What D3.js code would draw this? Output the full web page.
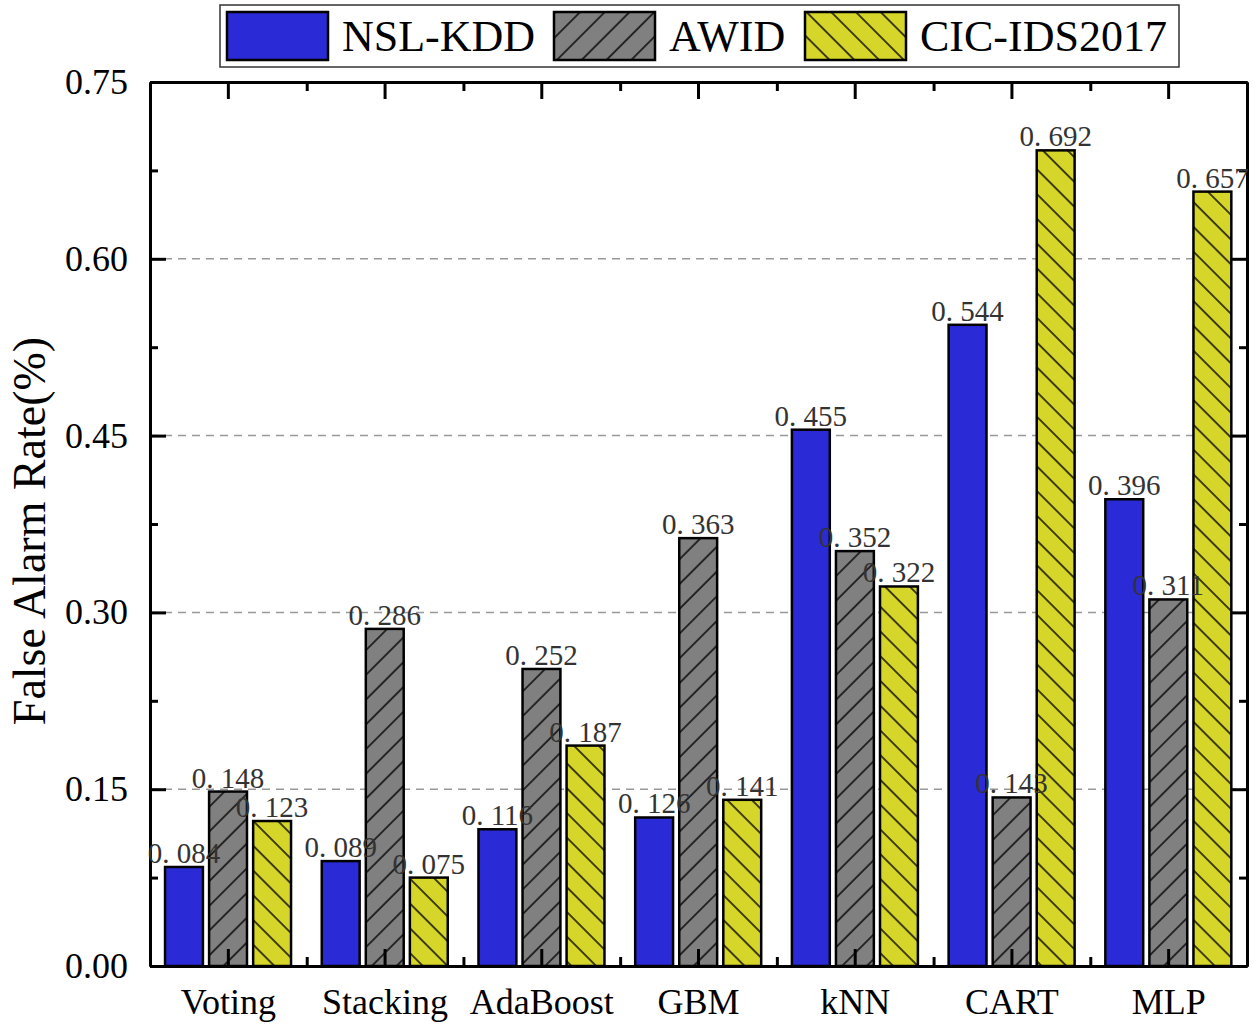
<!DOCTYPE html>
<html>
<head>
<meta charset="utf-8">
<script src="https://cdn.jsdelivr.net/npm/d3@7"></script>
<style>
  body { margin: 0; background: #fff; }
</style>
</head>
<body>
<div id="chart"></div>
<script>
// data

var models = ["Voting", "Stacking", "AdaBoost", "GBM", "kNN", "CART", "MLP"];
var series = ["NSL-KDD", "AWID", "CIC-IDS2017"];
var nslKdd = [0.084, 0.089, 0.116, 0.126, 0.455, 0.544, 0.396];
var awid = [0.148, 0.286, 0.252, 0.363, 0.352, 0.143, 0.311];
var cicIds = [0.123, 0.075, 0.187, 0.141, 0.322, 0.692, 0.657];
var yTicks = [0, 0.15, 0.30, 0.45, 0.60, 0.75];
var yMinorTicks = [0.075, 0.225, 0.375, 0.525, 0.675];

var values = [nslKdd, awid, cicIds];
var fills = ["#2a2ad6", "#808080", "#d6d62a"];
var hatch = [null, "hatch-fwd", "hatch-back"];

var w = 1253,
    h = 1028,
    svg = d3.select("#chart")
            .append("svg")
            .attr("width", w)
            .attr("height", h);

// plot frame (window.top is reserved, so use other names)
var pLeft = 150, pRight = 1247, pTop = 82, pBottom = 966;

// hatch patterns
var defs = svg.append("defs");
function makePattern(id, angle, color) {
    var p = defs.append("pattern")
        .attr("id", id)
        .attr("patternUnits", "userSpaceOnUse")
        .attr("width", 17.5)
        .attr("height", 17.5)
        .attr("patternTransform", "rotate(" + angle + ")");
    p.append("rect").attr("width", 17.5).attr("height", 17.5).attr("fill", color);
    p.append("line")
        .attr("x1", 1).attr("y1", 0).attr("x2", 1).attr("y2", 17.5)
        .attr("stroke", "#000").attr("stroke-width", 1.4);
}
makePattern("hatch-fwd", 45, fills[1]);
makePattern("hatch-back", -45, fills[2]);

function fillFor(i) {
    return hatch[i] ? "url(#" + hatch[i] + ")" : fills[i];
}

// scales
var x = d3.scaleBand()
    .domain(models)
    .range([pLeft, pRight])
    .padding(0);

var bw = x.bandwidth();
var x1 = d3.scaleBand()
    .domain(series)
    .range([bw * 0.096, bw * 0.9])
    .paddingInner(0.14)
    .paddingOuter(0);

var y = d3.scaleLinear()
    .domain([0, 0.75])
    .range([pBottom, pTop]);

// grid lines
svg.append("g")
    .selectAll("line")
    .data(yTicks.filter(function(d) { return d > 0 && d < 0.75; }))
    .enter().append("line")
    .attr("x1", pLeft).attr("x2", pRight)
    .attr("y1", function(d) { return y(d); })
    .attr("y2", function(d) { return y(d); })
    .attr("stroke", "#999")
    .attr("stroke-width", 1.5)
    .attr("stroke-dasharray", "8,6");

// bars
var table = [];
models.forEach(function(m, j) {
    series.forEach(function(s, i) {
        table.push({model: m, series: s, idx: i, value: values[i][j]});
    });
});

svg.append("g")
    .selectAll("rect")
    .data(table)
    .enter().append("rect")
    .attr("x", function(d) { return x(d.model) + x1(d.series); })
    .attr("y", function(d) { return y(d.value); })
    .attr("width", x1.bandwidth())
    .attr("height", function(d) { return y(0) - y(d.value); })
    .attr("fill", function(d) { return fillFor(d.idx); })
    .attr("stroke", "#000")
    .attr("stroke-width", 2.5);

// axes
var fmt = d3.format(".2f");
function styleAxis(g) {
    g.selectAll("path, line").attr("stroke", "#000").attr("stroke-width", 3);
    g.selectAll("text")
        .attr("font-family", "'Liberation Serif', 'Times New Roman', serif")
        .attr("font-size", "36px")
        .attr("fill", "#000");
}

svg.append("g")
    .attr("transform", "translate(" + pLeft + ",0)")
    .call(d3.axisLeft(y).tickValues(yTicks).tickFormat(fmt).tickSizeInner(-16).tickSizeOuter(0).tickPadding(22))
    .call(styleAxis);
svg.append("g")
    .attr("transform", "translate(" + pLeft + ",0)")
    .call(d3.axisLeft(y).tickValues(yMinorTicks).tickFormat("").tickSizeInner(-8).tickSizeOuter(0))
    .call(styleAxis);
svg.append("g")
    .attr("transform", "translate(" + pRight + ",0)")
    .call(d3.axisRight(y).tickValues(yTicks).tickFormat("").tickSizeInner(-16).tickSizeOuter(0))
    .call(styleAxis);
svg.append("g")
    .attr("transform", "translate(" + pRight + ",0)")
    .call(d3.axisRight(y).tickValues(yMinorTicks).tickFormat("").tickSizeInner(-8).tickSizeOuter(0))
    .call(styleAxis);

var xb = d3.scaleLinear().domain([0, models.length]).range([pLeft, pRight]);
var boundaries = d3.range(1, models.length);

svg.append("g")
    .attr("transform", "translate(0," + pBottom + ")")
    .call(d3.axisBottom(x).tickSizeInner(-17).tickSizeOuter(0).tickPadding(22))
    .call(styleAxis);
svg.append("g")
    .attr("transform", "translate(0," + pBottom + ")")
    .call(d3.axisBottom(xb).tickValues(boundaries).tickFormat("").tickSizeInner(-9).tickSizeOuter(0))
    .call(styleAxis);
svg.append("g")
    .attr("transform", "translate(0," + pTop + ")")
    .call(d3.axisTop(x).tickFormat("").tickSizeInner(-17).tickSizeOuter(0))
    .call(styleAxis);
svg.append("g")
    .attr("transform", "translate(0," + pTop + ")")
    .call(d3.axisTop(xb).tickValues(boundaries).tickFormat("").tickSizeInner(-9).tickSizeOuter(0))
    .call(styleAxis);

// value labels
svg.append("g")
    .selectAll("text")
    .data(table)
    .enter().append("text")
    .attr("x", function(d) { return x(d.model) + x1(d.series) + x1.bandwidth() / 2; })
    .attr("y", function(d) { return y(d.value) - 4; })
    .attr("text-anchor", "middle")
    .attr("font-family", "'Liberation Serif', 'Times New Roman', serif")
    .attr("font-size", "29px")
    .attr("fill", "#333")
    .style("white-space", "pre")
    .text(function(d) { return d.value.toFixed(3).replace(".", ". "); });

// y axis title
svg.append("text")
    .attr("transform", "translate(45,531) rotate(-90)")
    .attr("text-anchor", "middle")
    .attr("font-family", "'Liberation Serif', 'Times New Roman', serif")
    .attr("font-size", "46px")
    .attr("fill", "#000")
    .text("False Alarm Rate(%)");

// legend
svg.append("rect")
    .attr("x", 220).attr("y", 5)
    .attr("width", 959).attr("height", 62)
    .attr("fill", "#fff")
    .attr("stroke", "#333")
    .attr("stroke-width", 1.5);

var legendX = [227, 554, 805];
var legend = svg.append("g")
    .selectAll("g")
    .data(series)
    .enter().append("g")
    .attr("transform", function(d, i) { return "translate(" + legendX[i] + ",12)"; });

legend.append("rect")
    .attr("width", 101).attr("height", 48)
    .attr("fill", function(d, i) { return fillFor(i); })
    .attr("stroke", "#000")
    .attr("stroke-width", 2.5);

legend.append("text")
    .attr("x", 115)
    .attr("y", 39)
    .attr("font-family", "'Liberation Serif', 'Times New Roman', serif")
    .attr("font-size", "44px")
    .attr("fill", "#000")
    .text(function(d) { return d; });
</script>
</body>
</html>
